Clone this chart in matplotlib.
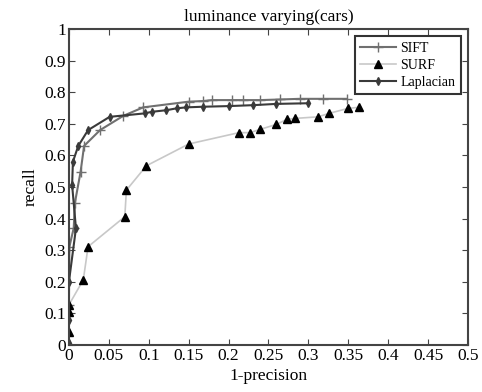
import matplotlib.pyplot as plt
import numpy as np

plt.rcParams['font.family'] = ['Liberation Serif', 'DejaVu Serif']

# SIFT
sift_x = [0.0, 0.0, 0.0005, 0.006, 0.0075, 0.0146, 0.019, 0.039, 0.068, 0.093,
          0.15, 0.168, 0.179, 0.204, 0.218, 0.24, 0.265, 0.289, 0.318, 0.348]
sift_y = [0.0, 0.127, 0.31, 0.37, 0.45, 0.548, 0.63, 0.68, 0.725, 0.752,
          0.77, 0.772, 0.775, 0.775, 0.775, 0.775, 0.777, 0.779, 0.779, 0.779]

# SURF
surf_x = [0.0, 0.0, 0.0, 0.0, 0.018, 0.024, 0.070, 0.072, 0.097, 0.15,
          0.213, 0.227, 0.239, 0.26, 0.273, 0.283, 0.312, 0.326, 0.35, 0.363]
surf_y = [0.0, 0.042, 0.105, 0.127, 0.206, 0.311, 0.406, 0.49, 0.567, 0.636,
          0.672, 0.672, 0.682, 0.698, 0.714, 0.717, 0.722, 0.733, 0.749, 0.752]

# Laplacian
lap_x = [0.0, 0.0, 0.0, 0.0088, 0.004, 0.005, 0.0117, 0.024, 0.051, 0.095,
         0.104, 0.122, 0.135, 0.147, 0.168, 0.2, 0.231, 0.26, 0.299]
lap_y = [0.005, 0.079, 0.2, 0.369, 0.506, 0.58, 0.63, 0.68, 0.722, 0.733,
         0.738, 0.743, 0.749, 0.752, 0.754, 0.756, 0.759, 0.763, 0.765]

fig = plt.figure(figsize=(4.82, 3.92), dpi=100)
ax = fig.add_axes([0.143, 0.12, 0.828, 0.806])

ax.plot(sift_x, sift_y, color='#707070', lw=1.5, marker='+', ms=7, mew=1.0, label='SIFT')
ax.plot(surf_x, surf_y, color='#c8c8c8', lw=1.2, marker='^', ms=5.5, mfc='black', mec='black', label='SURF')
ax.plot(lap_x, lap_y, color='#3a3a3a', lw=1.5, marker='d', ms=4, mfc='#3a3a3a', mec='#3a3a3a', label='Laplacian')

ax.set_xlim(0, 0.5)
ax.set_ylim(0, 1)
ax.set_xticks(np.arange(0, 0.51, 0.05))
ax.set_xticklabels(['0', '0.05', '0.1', '0.15', '0.2', '0.25', '0.3', '0.35', '0.4', '0.45', '0.5'])
ax.set_yticks(np.arange(0, 1.01, 0.1))
ax.set_yticklabels(['0', '0.1', '0.2', '0.3', '0.4', '0.5', '0.6', '0.7', '0.8', '0.9', '1'])
ax.tick_params(direction='in', top=True, right=True, labelsize=12.5, length=4, color='#444444', pad=2)
for s in ax.spines.values():
    s.set_color('#444444')
    s.set_linewidth(1.5)

ax.set_xlabel('1-precision', fontsize=12.5, labelpad=3)
ax.set_ylabel('recall', fontsize=12.5)
ax.set_title('luminance varying(cars)', fontsize=12.5, pad=6)

leg = ax.legend(loc='upper right', fontsize=10, fancybox=False, framealpha=1,
                borderpad=0.4, handlelength=2.6, labelspacing=0.3, borderaxespad=0.5,
                handletextpad=0.3)
leg.get_frame().set_edgecolor('#333333')
leg.get_frame().set_linewidth(1.5)

fig.savefig('out.png', dpi=100)
